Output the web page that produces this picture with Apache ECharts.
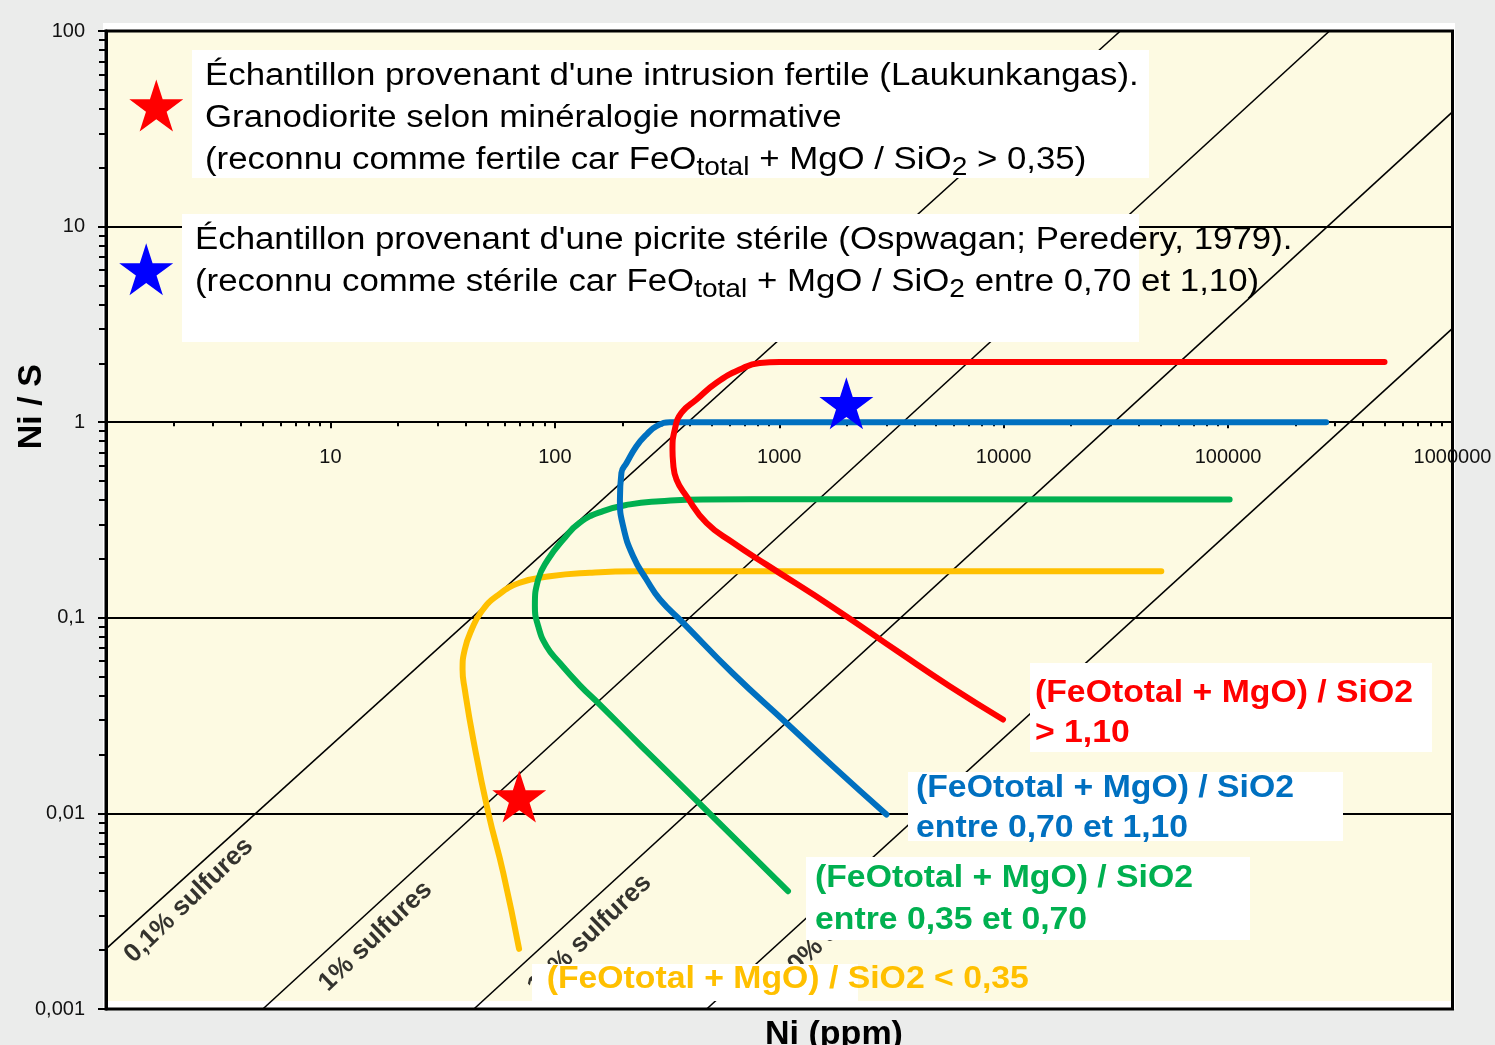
<!DOCTYPE html>
<html>
<head>
<meta charset="utf-8">
<script src="https://cdn.jsdelivr.net/npm/echarts@6/dist/echarts.min.js"></script>
<style>
html, body { margin: 0; padding: 0; background: #ebeceb; }
#chart { width: 1495px; height: 1045px; }
</style>
</head>
<body>
<div id="chart"></div>
<script>
// ---- Axes -------------------------------------------------------------
const xRange = [1, 1000000];
const yRange = [0.001, 100];
const xTickValues = [1, 10, 100, 1000, 10000, 100000, 1000000];
const xTickLabels = ['', '10', '100', '1000', '10000', '100000', '1000000'];
const yTickValues = [0.001, 0.01, 0.1, 1, 10, 100];
const yTickLabels = ['0,001', '0,01', '0,1', '1', '10', '100'];

// ---- Sulphide iso-lines [Ni ppm, Ni/S] --------------------------------
const sulf01 = [[1, 0.00203], [33100, 100]];
const sulf1 = [[5.0, 0.001], [283000, 100]];
const sulf10 = [[43.6, 0.001], [1000000, 38.6]];
const sulf100 = [[475, 0.001], [1000000, 3.02]];
const sulfNames = ['0,1% sulfures', '1% sulfures', '10% sulfures', '100% sulfures'];
const sulfNamePos = [[2.34, 0.00359], [15.9, 0.00235], [143, 0.0024], [1756, 0.00258]];

// ---- Fractionation curves [Ni ppm, Ni/S] ------------------------------
const curveLow = [[69.3, 0.00203], [58.9, 0.00497], [50.5, 0.0101], [43.3, 0.0239], [39.7, 0.043],
  [38.8, 0.0544], [39.7, 0.0689], [42.6, 0.0871], [47.2, 0.108], [55, 0.129], [69.8, 0.151],
  [95, 0.163], [143, 0.170], [231, 0.173], [442, 0.173], [50400, 0.173]];
const curveMid = [[1094, 0.004], [443, 0.0112], [239, 0.0225], [159, 0.0359], [129, 0.0453],
  [105, 0.0589], [91.8, 0.0716], [84.3, 0.0906], [81.5, 0.115], [84.3, 0.157], [93.3, 0.199],
  [109, 0.251], [129, 0.306], [164, 0.351], [216, 0.38], [294, 0.394], [458, 0.403],
  [1234, 0.404], [101600, 0.403]];
const curveHigh = [[3004, 0.00987], [1737, 0.0174], [1076, 0.029], [622, 0.0519], [373, 0.0943],
  [294, 0.124], [256, 0.157], [223, 0.207], [201.5, 0.294], [195, 0.403], [198, 0.551],
  [209, 0.62], [231, 0.754], [256, 0.865], [284, 0.954], [325, 1.0], [413, 1.0], [273600, 1.0]];
const curveUltra = [[9931, 0.0302], [5746, 0.0447], [3443, 0.0662], [1737, 0.113], [877, 0.187],
  [623, 0.242], [474, 0.306], [386, 0.419], [348.5, 0.509], [336.6, 0.62], [334.4, 0.725],
  [342.5, 0.918], [366.6, 1.117], [427.8, 1.306], [525, 1.59], [667, 1.859], [819, 2.01],
  [1005, 2.03], [497800, 2.03]];

// ---- Samples ----------------------------------------------------------
const fertileSample = [[69.4, 0.0122]];
const sterileSample = [[1991, 1.25]];

// ---- Layout -----------------------------------------------------------
const W = 1495, H = 1045;
const grid = { left: 106, right: 42.5, top: 31, bottom: 36 };
const gridH = H - grid.top - grid.bottom;
const logSpan = Math.log10(yRange[1]) - Math.log10(yRange[0]);
// the Ni axis is drawn across the plot at Ni/S = 1
const xAxisOffset = -gridH * (Math.log10(1) - Math.log10(yRange[0])) / logSpan;

const sans = 'Liberation Sans, Arial, Helvetica, sans-serif';
const RED = '#ff0000', BLUE = '#0070c0', GREEN = '#00b050', YELLOW = '#ffc000';
const starPath = 'path://M50 0 L61.23 34.55 L97.55 34.55 L68.17 55.9 L79.39 90.45 L50 69.1 L20.61 90.45 L31.83 55.9 L2.45 34.55 L38.77 34.55 Z';
const starUnit = [[50, 0], [61.23, 34.55], [97.55, 34.55], [68.17, 55.9], [79.39, 90.45],
  [50, 69.1], [20.61, 90.45], [31.83, 55.9], [2.45, 34.55], [38.77, 34.55]];

function starPoints(cx, cy, w, h) {
  return starUnit.map(p => [cx + (p[0] - 50) / 95.1 * w, cy + (p[1] - 45.225) / 90.45 * h]);
}
function tickText(values, labels) {
  return function (v) {
    const i = values.findIndex(t => Math.abs(Math.log10(t) - Math.log10(v)) < 1e-6);
    return i >= 0 ? labels[i] : '';
  };
}
function isoLine(data) {
  return {
    type: 'line', data: data, showSymbol: false, symbol: 'none', silent: true, z: 2,
    lineStyle: { color: '#000', width: 1.6 }
  };
}
function curve(data, color) {
  return {
    type: 'line', data: data, showSymbol: false, symbol: 'none', silent: true, z: 3,
    smooth: 0.5,
    lineStyle: { color: color, width: 6, cap: 'round', join: 'round' }
  };
}
function whiteBox(x, y, w, h) {
  return { type: 'rect', z: 10, shape: { x: x, y: y, width: w, height: h }, style: { fill: '#ffffff' } };
}
const legendRich = {
  n: { fontSize: 31, fontFamily: sans, fill: '#000', lineHeight: 42 },
  s: { fontSize: 25, fontFamily: sans, fill: '#000', lineHeight: 22, verticalAlign: 'bottom' }
};
function boldLabel(x, y, text, color, lineHeight) {
  return {
    type: 'text', x: x, y: y, scaleX: 1.055, z: 11,
    style: {
      text: text, fill: color, fontFamily: sans, fontSize: 32, fontWeight: 'bold',
      lineHeight: lineHeight, align: 'left', verticalAlign: 'top'
    }
  };
}

const chart = echarts.init(document.getElementById('chart'), null, { renderer: 'canvas' });

chart.setOption({
  animation: false,
  backgroundColor: '#ebeceb',
  grid: { left: grid.left, right: grid.right, top: grid.top, bottom: grid.bottom,
    show: true, borderColor: '#000', borderWidth: 3, backgroundColor: 'rgba(0,0,0,0)' },
  xAxis: {
    type: 'log', logBase: 10, min: xRange[0], max: xRange[1], splitNumber: 6,
    position: 'bottom', offset: xAxisOffset,
    axisLine: { show: true, lineStyle: { color: '#000', width: 2 } },
    axisTick: { show: true, length: 6, lineStyle: { color: '#000', width: 2 } },
    minorTick: { show: true, splitNumber: 9, length: 4, lineStyle: { color: '#000', width: 2 } },
    axisLabel: { show: true, margin: 25, fontSize: 20, fontFamily: sans, color: '#111',
      showMinLabel: true, showMaxLabel: true, hideOverlap: false,
      formatter: tickText(xTickValues, xTickLabels) },
    splitLine: { show: false }
  },
  yAxis: {
    type: 'log', logBase: 10, min: yRange[0], max: yRange[1], splitNumber: 5,
    axisLine: { show: true, lineStyle: { color: '#000', width: 3 } },
    axisTick: { show: true, length: 8, lineStyle: { color: '#000', width: 2 } },
    minorTick: { show: true, splitNumber: 9, length: 7, lineStyle: { color: '#000', width: 2 } },
    axisLabel: { show: true, margin: 21, fontSize: 20, fontFamily: sans, color: '#111',
      showMinLabel: true, showMaxLabel: true,
      formatter: tickText(yTickValues, yTickLabels) },
    splitLine: { show: true, lineStyle: { color: '#000', width: 2 } }
  },
  series: [
    isoLine(sulf01), isoLine(sulf1), isoLine(sulf10), isoLine(sulf100),
    {
      type: 'scatter', silent: true, z: 2, symbolSize: 1,
      itemStyle: { color: 'rgba(0,0,0,0)' },
      data: sulfNamePos.map((p, i) => ({ value: p, name: sulfNames[i] })),
      label: { show: true, position: 'inside', formatter: '{b}', rotate: 44,
        fontSize: 26, fontWeight: 'bold', fontFamily: sans, color: '#000' }
    },
    curve(curveLow, YELLOW), curve(curveMid, GREEN), curve(curveHigh, BLUE), curve(curveUltra, RED),
    { type: 'scatter', z: 5, silent: true, data: fertileSample, symbol: starPath,
      symbolSize: [54, 52], itemStyle: { color: RED, opacity: 1 } },
    { type: 'scatter', z: 5, silent: true, data: sterileSample, symbol: starPath,
      symbolSize: [54, 52], itemStyle: { color: '#0000ff', opacity: 1 } }
  ],
  graphic: {
    elements: [
      // chart frame
      { type: 'rect', z: -11, shape: { x: 103, y: 23, width: 1352, height: 986 }, style: { fill: '#ffffff' } },
      { type: 'rect', z: -10, shape: { x: 106, y: 31, width: 1346.5, height: 970 }, style: { fill: '#fdfae2' } },
      // sample legend
      whiteBox(192, 50, 957, 128),
      whiteBox(182, 214, 957, 128),
      { type: 'polygon', z: 11, shape: { points: starPoints(156.3, 105.5, 54, 52) }, style: { fill: RED } },
      { type: 'polygon', z: 11, shape: { points: starPoints(146.2, 269.3, 54, 52) }, style: { fill: '#0000ff' } },
      {
        type: 'text', x: 205, y: 55, scaleX: 1.123, z: 11,
        style: {
          text: "{n|Échantillon provenant d'une intrusion fertile (Laukunkangas).}\n" +
                "{n|Granodiorite selon minéralogie normative}\n" +
                "{n|(reconnu comme fertile car FeO}{s|total}{n| + MgO / SiO}{s|2}{n| > 0,35)}",
          align: 'left', verticalAlign: 'top', rich: legendRich
        }
      },
      {
        type: 'text', x: 195, y: 219, scaleX: 1.123, z: 11,
        style: {
          text: "{n|Échantillon provenant d'une picrite stérile (Ospwagan; Peredery, 1979).}\n" +
                "{n|(reconnu comme stérile car FeO}{s|total}{n| + MgO / SiO}{s|2}{n| entre 0,70 et 1,10)}",
          align: 'left', verticalAlign: 'top', rich: legendRich
        }
      },
      // curve labels
      whiteBox(1030, 663, 402, 89),
      whiteBox(908, 772, 435, 69),
      whiteBox(806, 857, 444, 83),
      whiteBox(532, 964, 326, 37),
      boldLabel(1035, 673, '(FeOtotal + MgO) / SiO2\n> 1,10', RED, 40),
      boldLabel(916, 768, '(FeOtotal + MgO) / SiO2\nentre 0,70 et 1,10', BLUE, 40),
      boldLabel(815, 857, '(FeOtotal + MgO) / SiO2\nentre 0,35 et 0,70', GREEN, 42),
      boldLabel(546.7, 959, '(FeOtotal + MgO) / SiO2 < 0,35', YELLOW, 40),
      // axis titles
      { type: 'text', x: 834, y: 1035, z: 11,
        style: { text: 'Ni (ppm)', fontFamily: sans, fontSize: 34, fontWeight: 'bold', fill: '#000',
          align: 'center', verticalAlign: 'middle' } },
      { type: 'text', x: 31.5, y: 406.7, rotation: Math.PI / 2, z: 11,
        style: { text: 'Ni / S', fontFamily: sans, fontSize: 34, fontWeight: 'bold', fill: '#000',
          align: 'center', verticalAlign: 'middle' } }
    ]
  }
});
</script>
</body>
</html>
